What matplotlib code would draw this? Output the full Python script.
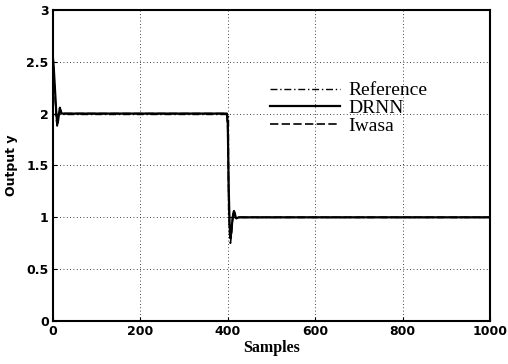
import matplotlib
matplotlib.use("Agg")
import matplotlib.pyplot as plt

# reference signal (step)
ref_x = [0, 400, 400, 1000]
ref_y = [2, 2, 1, 1]

# DRNN output
drnn_x = [0, 2, 4, 6, 8, 10, 12, 14, 16, 18, 20, 25, 30, 398,
          400, 402, 404, 406, 408, 410, 412, 414, 416, 418, 420, 425, 1000]
drnn_y = [2.55, 2.45, 2.3, 2.15, 2.0, 1.9, 1.93, 2.0, 2.05, 2.03, 2.0, 2.0, 2.0, 2.0,
          1.9, 1.3, 0.95, 0.8, 0.85, 0.95, 1.02, 1.06, 1.04, 1.0, 0.99, 1.0, 1.0]

# Iwasa output
iwasa_x = [0, 2, 4, 6, 8, 10, 12, 14, 16, 18, 20, 25, 30, 398,
           400, 402, 404, 406, 408, 410, 412, 414, 416, 418, 420, 425, 1000]
iwasa_y = [2.5, 2.4, 2.25, 2.1, 1.95, 1.88, 1.95, 2.02, 2.06, 2.02, 1.99, 2.0, 2.0, 2.0,
           1.85, 1.2, 0.85, 0.75, 0.82, 0.93, 1.03, 1.07, 1.03, 0.99, 1.0, 1.0, 1.0]

xticks = [0, 200, 400, 600, 800, 1000]
yticks = [0, 0.5, 1, 1.5, 2, 2.5, 3]
yticklabels = ["0", "0.5", "1", "1.5", "2", "2.5", "3"]

fig = plt.figure(figsize=(5.08, 3.64), dpi=100)
ax = fig.add_axes([0.104, 0.118, 0.861, 0.855])

ax.plot(ref_x, ref_y, color="black", linestyle=(0, (5, 2, 1, 2)), linewidth=1.0, label="Reference")
ax.plot(drnn_x, drnn_y, color="black", linestyle="-", linewidth=1.6, label="DRNN")
ax.plot(iwasa_x, iwasa_y, color="black", linestyle=(0, (5, 2)), linewidth=1.2, label="Iwasa")

ax.set_xlim(0, 1000)
ax.set_ylim(0, 3)
ax.set_xticks(xticks)
ax.set_yticks(yticks)
ax.set_yticklabels(yticklabels)
ax.grid(True, color="black", linestyle=(0, (1, 3)), linewidth=0.6)
ax.tick_params(direction="in", length=3, labelsize=9, pad=3)
for lab in ax.get_xticklabels() + ax.get_yticklabels():
    lab.set_fontweight("bold")
for sp in ax.spines.values():
    sp.set_linewidth(1.5)

ax.set_xlabel("Samples", fontsize=11.5, family="Liberation Serif", fontweight="bold", labelpad=1)
ax.set_ylabel("Output y", fontsize=9, fontweight="bold", labelpad=6)

leg = ax.legend(loc="upper left", bbox_to_anchor=(0.457, 0.825), frameon=False,
                prop={"family": "Liberation Serif", "size": 14},
                handlelength=3.6, labelspacing=0.0, handletextpad=0.4)

fig.savefig("out.png", dpi=100)
